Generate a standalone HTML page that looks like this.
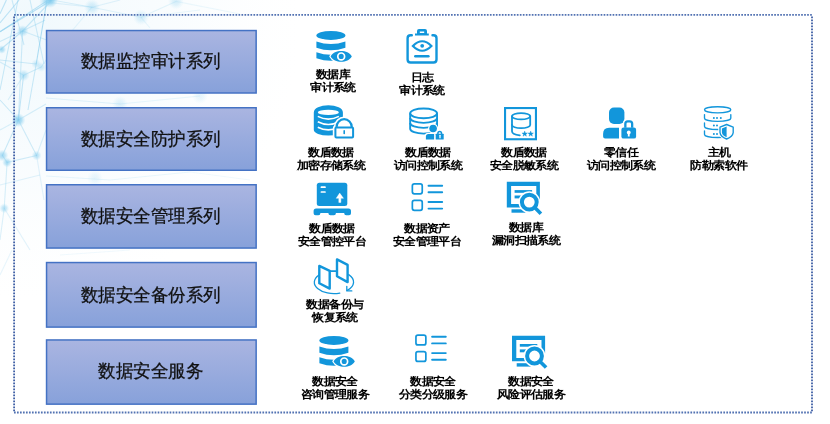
<!DOCTYPE html>
<html><head><meta charset="utf-8">
<style>
html,body{margin:0;padding:0;background:#fff;}
body{width:830px;height:424px;position:relative;overflow:hidden;font-family:"Liberation Sans",sans-serif;}
#bg{position:absolute;left:0;top:0;}
.box{position:absolute;left:44.9px;width:211.1px;color:#111;font-size:18px;-webkit-text-stroke:0.3px #111;text-align:center;transform:scaleX(0.972);}
.lb{position:absolute;width:100px;text-align:center;font-size:11px;line-height:14.2px;transform:scale(1.045,0.96);transform-origin:50% 0;font-weight:bold;color:#000;-webkit-text-stroke:0.3px rgba(0,0,0,0.25);white-space:nowrap;}
#ic{position:absolute;left:0;top:0;}
</style></head><body>
<svg id="bg" width="830" height="424" viewBox="0 0 830 424">
<defs><radialGradient id="nd"><stop offset="0" stop-color="#7cc8ec" stop-opacity="1"/><stop offset="0.45" stop-color="#8fd2f0" stop-opacity="0.8"/><stop offset="1" stop-color="#a8dcf3" stop-opacity="0"/></radialGradient>
<radialGradient id="hz" cx="0.1" cy="0.1" r="0.9"><stop offset="0" stop-color="#cdeaf7" stop-opacity="0.3"/><stop offset="0.55" stop-color="#dff1fa" stop-opacity="0.18"/><stop offset="1" stop-color="#eef8fc" stop-opacity="0"/></radialGradient>
<filter id="bl" x="-5%" y="-5%" width="110%" height="110%"><feGaussianBlur stdDeviation="0.5"/></filter></defs>
<rect x="0" y="0" width="300" height="300" fill="url(#hz)"/>
<g stroke="#8fd0ee" stroke-width="1.1" fill="none" filter="url(#bl)">
<line x1="47" y1="0" x2="36.2" y2="64" stroke-opacity="0.7"/>
<line x1="36.2" y1="64" x2="28" y2="110" stroke-opacity="0.45"/>
<line x1="52" y1="0" x2="0" y2="31.7" stroke-opacity="0.6"/>
<line x1="0" y1="31.8" x2="45" y2="2.1" stroke-opacity="0.6"/>
<line x1="45" y1="2.1" x2="70" y2="-10" stroke-opacity="0.45"/>
<line x1="0" y1="22.8" x2="19.1" y2="0" stroke-opacity="0.55"/>
<line x1="6.4" y1="0" x2="0" y2="13.8" stroke-opacity="0.55"/>
<line x1="22.6" y1="31" x2="0" y2="50" stroke-opacity="0.5"/>
<line x1="22.6" y1="31" x2="52" y2="0" stroke-opacity="0.45"/>
<line x1="22.6" y1="31" x2="18.4" y2="120" stroke-opacity="0.4"/>
<line x1="22.6" y1="31" x2="60" y2="45" stroke-opacity="0.35"/>
<line x1="0" y1="41.4" x2="45" y2="20.2" stroke-opacity="0.4"/>
<line x1="0" y1="60" x2="36.2" y2="64" stroke-opacity="0.4"/>
<line x1="18" y1="0" x2="0" y2="90" stroke-opacity="0.45"/>
<line x1="12" y1="0" x2="24" y2="45" stroke-opacity="0.4"/>
<line x1="30" y1="0" x2="44" y2="64" stroke-opacity="0.4"/>
<line x1="18.4" y1="120" x2="23.6" y2="75.3" stroke-opacity="0.5"/>
<line x1="18.4" y1="120" x2="2.4" y2="155.5" stroke-opacity="0.45"/>
<line x1="18.4" y1="120" x2="36.6" y2="155.5" stroke-opacity="0.4"/>
<line x1="18.4" y1="120" x2="0" y2="100" stroke-opacity="0.45"/>
<line x1="18.4" y1="120" x2="46" y2="104" stroke-opacity="0.35"/>
<line x1="23.6" y1="75.3" x2="41.3" y2="67" stroke-opacity="0.4"/>
<line x1="23.6" y1="75.3" x2="0" y2="62" stroke-opacity="0.35"/>
<line x1="41.3" y1="67" x2="60" y2="40" stroke-opacity="0.3"/>
<line x1="23.6" y1="75.3" x2="8" y2="100" stroke-opacity="0.3"/>
<line x1="2.4" y1="155.5" x2="7.1" y2="162.4" stroke-opacity="0.45"/>
<line x1="7.1" y1="162.4" x2="36.6" y2="155.5" stroke-opacity="0.4"/>
<line x1="7.1" y1="162.4" x2="4.2" y2="208.3" stroke-opacity="0.35"/>
<line x1="36.6" y1="155.5" x2="46" y2="130" stroke-opacity="0.3"/>
<line x1="4.2" y1="208.3" x2="0" y2="240" stroke-opacity="0.3"/>
<line x1="4.2" y1="208.3" x2="30" y2="250" stroke-opacity="0.25"/>
<line x1="36.6" y1="155.5" x2="44" y2="200" stroke-opacity="0.25"/>
<line x1="0" y1="185" x2="40" y2="175" stroke-opacity="0.25"/>
<line x1="52" y1="0" x2="92" y2="7.2" stroke-opacity="0.3"/>
<line x1="92" y1="7.2" x2="141" y2="17.3" stroke-opacity="0.25"/>
<line x1="141" y1="17.3" x2="176" y2="1.4" stroke-opacity="0.22"/>
<line x1="92" y1="7.2" x2="120" y2="0" stroke-opacity="0.25"/>
<line x1="141" y1="17.3" x2="200" y2="10" stroke-opacity="0.18"/>
<line x1="176" y1="1.4" x2="240" y2="14" stroke-opacity="0.15"/>
<line x1="45" y1="2.1" x2="92" y2="7.2" stroke-opacity="0.25"/>
<line x1="60" y1="45" x2="92" y2="7.2" stroke-opacity="0.2"/>
<line x1="141" y1="17.3" x2="150" y2="28" stroke-opacity="0.18"/>
<line x1="0" y1="130" x2="18.4" y2="120" stroke-opacity="0.3"/>
<line x1="0" y1="275" x2="12" y2="250" stroke-opacity="0.2"/>
<line x1="46" y1="98" x2="120" y2="104" stroke-opacity="0.25"/>
<line x1="120" y1="104" x2="200" y2="96" stroke-opacity="0.2"/>
<line x1="46" y1="176" x2="110" y2="180" stroke-opacity="0.2"/>
<line x1="110" y1="180" x2="190" y2="172" stroke-opacity="0.18"/>
<line x1="190" y1="172" x2="250" y2="180" stroke-opacity="0.12"/>
<line x1="60" y1="255" x2="130" y2="250" stroke-opacity="0.12"/>
</g>
<g fill="url(#nd)">
<circle cx="50" cy="0" r="8.00" opacity="0.96"/>
<circle cx="22.6" cy="31" r="6.00" opacity="0.66"/>
<circle cx="1.8" cy="49.5" r="4.40" opacity="0.66"/>
<circle cx="23.6" cy="75.3" r="6.00" opacity="0.54"/>
<circle cx="18.4" cy="120.1" r="7.00" opacity="0.84"/>
<circle cx="2.4" cy="155.5" r="6.00" opacity="0.66"/>
<circle cx="36.6" cy="155.5" r="5.00" opacity="0.54"/>
<circle cx="41.3" cy="67" r="5.00" opacity="0.36"/>
<circle cx="7.1" cy="162.4" r="5.00" opacity="0.66"/>
<circle cx="4.2" cy="208.3" r="5.00" opacity="0.54"/>
<circle cx="92" cy="7.2" r="8.00" opacity="0.36"/>
<circle cx="141" cy="17.3" r="8.00" opacity="0.30"/>
<circle cx="176" cy="1.4" r="8.00" opacity="0.30"/>
<circle cx="45" cy="2.1" r="6.00" opacity="0.36"/>
<circle cx="36.2" cy="64" r="5.00" opacity="0.36"/>
<circle cx="120" cy="104" r="8.00" opacity="0.24"/>
<circle cx="95" cy="178" r="8.00" opacity="0.18"/>
<circle cx="200" cy="96" r="8.00" opacity="0.18"/>
</g>
</svg>
<svg id="fr" width="830" height="424" viewBox="0 0 830 424" style="position:absolute;left:0;top:0">
<g stroke="#5272b2" stroke-width="1.8" stroke-dasharray="1.7 1.293" fill="none">
<path d="M14 14.95H813"/>
<path d="M14 412.5H813"/>
</g>
<g stroke="#3f5fa5" stroke-width="1.8" stroke-dasharray="1.7 1.3" fill="none">
<path d="M14.1 16.5V412"/>
<path d="M812 16.5V412"/>
</g>
</svg>






<svg id="bx" width="830" height="424" viewBox="0 0 830 424" style="position:absolute;left:0;top:0">
<defs><linearGradient id="bg1" x1="0" y1="0" x2="0" y2="1"><stop offset="0" stop-color="#aab5e1"/><stop offset="1" stop-color="#87a1da"/></linearGradient></defs>
<rect x="46.55" y="30.55" width="209.6" height="62.45" fill="url(#bg1)" stroke="#4472c4" stroke-width="1.5"/>
<rect x="46.55" y="107.75" width="209.6" height="62.50" fill="url(#bg1)" stroke="#4472c4" stroke-width="1.5"/>
<rect x="46.55" y="184.75" width="209.6" height="63.30" fill="url(#bg1)" stroke="#4472c4" stroke-width="1.5"/>
<rect x="46.55" y="262.55" width="209.6" height="64.55" fill="url(#bg1)" stroke="#4472c4" stroke-width="1.5"/>
<rect x="46.55" y="339.95" width="209.6" height="64.20" fill="url(#bg1)" stroke="#4472c4" stroke-width="1.5"/>
</svg>
<div class="box" style="top:29.80px;height:63.95px;line-height:63.95px">数据监控审计系列</div>
<div class="box" style="top:107.00px;height:64.00px;line-height:64.00px">数据安全防护系列</div>
<div class="box" style="top:184.00px;height:64.80px;line-height:64.80px">数据安全管理系列</div>
<div class="box" style="top:261.80px;height:66.05px;line-height:66.05px">数据安全备份系列</div>
<div class="box" style="top:339.20px;height:65.70px;line-height:65.70px">数据安全服务</div>
<div class="lb" style="left:283.15px;top:67.30px">数据库<br>审计系统</div>
<div class="lb" style="left:371.50px;top:70.00px">日志<br>审计系统</div>
<div class="lb" style="left:280.70px;top:145.20px">数盾数据<br>加密存储系统</div>
<div class="lb" style="left:377.50px;top:145.20px">数盾数据<br>访问控制系统</div>
<div class="lb" style="left:474.00px;top:145.20px">数盾数据<br>安全脱敏系统</div>
<div class="lb" style="left:571.10px;top:145.20px">零信任<br>访问控制系统</div>
<div class="lb" style="left:668.70px;top:144.70px">主机<br>防勒索软件</div>
<div class="lb" style="left:282.40px;top:221.20px">数盾数据<br>安全管控平台</div>
<div class="lb" style="left:376.50px;top:220.70px">数据资产<br>安全管理平台</div>
<div class="lb" style="left:476.00px;top:220.10px">数据库<br>漏洞扫描系统</div>
<div class="lb" style="left:285.05px;top:297.40px">数据备份与<br>恢复系统</div>
<div class="lb" style="left:284.70px;top:373.70px">数据安全<br>咨询管理服务</div>
<div class="lb" style="left:383.25px;top:373.70px">数据安全<br>分类分级服务</div>
<div class="lb" style="left:481.25px;top:373.70px">数据安全<br>风险评估服务</div>
<svg id="ic" width="830" height="424" viewBox="0 0 830 424">
<defs>
 <g id="dbeye">
  <ellipse cx="330.9" cy="35.45" rx="14.5" ry="4.45"/>
  <path d="M316.4 41.6 Q330.9 46.6 345.4 41.6 V47.8 Q330.9 52.8 316.4 47.8Z"/>
  <path d="M316.4 52.2 Q330.9 57.2 345.4 52.2 V58.2 Q330.9 63.2 316.4 58.2Z"/>
  <path d="M330.6 56.4 C334.5 49.3 347.9 49.3 351.8 56.4 C347.9 63.5 334.5 63.5 330.6 56.4Z" stroke="#fff" stroke-width="2.4" paint-order="stroke"/>
  <circle cx="341.2" cy="56.4" r="3.4" fill="none" stroke="#fff" stroke-width="1.7"/>
 </g>
 <g id="list" fill="none" stroke-linecap="round">
  <rect x="412.35" y="183.95" width="9.9" height="9.9" rx="2" stroke-width="1.7"/>
  <rect x="412.35" y="200.45" width="9.9" height="9.9" rx="2" stroke-width="1.7"/>
  <path d="M428.5 185.7H442.2M428.5 192.3H442.2M428.5 202H442.2M428.5 208.6H442.2" stroke-width="1.9"/>
 </g>
 <g id="monsearch">
  <path fill-rule="evenodd" d="M506.8 181.8H539.9V207.4H506.8Z M511.1 186.1V204H536.3V186.1Z"/>
  <rect x="511.5" y="209.3" width="13.9" height="3.4"/>
  <rect x="514.6" y="190.1" width="17.5" height="2.7"/>
  <rect x="514.6" y="195.5" width="6.3" height="2.9"/>
  <rect x="534" y="199.5" width="7" height="9" fill="#fff"/>
  <circle cx="529.3" cy="202.1" r="7.4" fill="#fff" stroke="#fff" stroke-width="7"/>
  <path d="M534.8 207.6L540.9 213.7" stroke="#fff" stroke-width="6.6"/>
  <circle cx="529.3" cy="202.1" r="7.4" fill="#fff" stroke-width="4"/>
  <path d="M534.8 207.6L540.9 213.7" stroke-width="3.6"/>
 </g>
</defs>
<g fill="#1296db" stroke="#1296db" stroke-width="0">
 <use href="#dbeye"/>
 <use href="#dbeye" transform="translate(3,305)"/>
 <use href="#list"/>
 <use href="#list" transform="translate(3.6,151.1)"/>
 <use href="#monsearch"/>
 <use href="#monsearch" transform="translate(5.2,153.9)"/>
</g>
<!-- clipboard -->
<g fill="none" stroke="#1296db" stroke-width="2.4" stroke-linecap="round">
 <path d="M411.8 35.2H410.6Q407.6 35.2 407.6 38.2V59.5Q407.6 62.5 410.6 62.5H433.5Q436.5 62.5 436.5 59.5V38.2Q436.5 35.2 433.5 35.2H432.5"/>
 <path d="M412.9 46Q422.2 36.5 431.4 46Q422.2 55.5 412.9 46Z" stroke-width="2.2"/>
 <path d="M415.3 56.25H428.4" stroke-width="2.5"/>
</g>
<g fill="#1296db">
 <circle cx="422.2" cy="45.8" r="1.9"/>
 <path fill-rule="evenodd" d="M419 29H425Q427 29 427 31V33.5H428.8V35.4H415V33.5H417V31Q417 29 419 29Z M419.8 31.5V33H424.2V31.5Z"/>
</g>
<!-- db lock -->
<g fill="#1296db">
 <path d="M313.8 112.4 A14.55 7.2 0 0 1 342.9 112.4 V130 A14.55 5.5 0 0 1 313.8 130 Z"/>
 <ellipse cx="328.35" cy="112.4" rx="10.55" ry="2.7" fill="#fff"/>
 <path d="M317.8 116.4 Q328.35 121.8 338.9 116.4 M317.8 121.8 Q328.35 127.2 338.9 121.8 M317.8 127.2 Q328.35 132.6 338.9 127.2" stroke="#fff" stroke-width="1.6" fill="none"/>
 <g stroke="#fff" stroke-width="5.2" fill="#fff" stroke-linejoin="round">
  <path d="M336.6 127.5 V126.75 A7.55 7.55 0 0 1 351.7 126.75 V127.5Z"/>
  <rect x="335.4" y="127.5" width="17.7" height="9.9" rx="1"/>
 </g>
 <path d="M336.6 127.5 V126.75 A7.55 7.55 0 0 1 351.7 126.75 V127.5" stroke="#1296db" stroke-width="2.2" fill="none"/>
 <rect x="335.4" y="127.5" width="17.7" height="9.9" rx="1" stroke="#1296db" stroke-width="2" fill="#fff"/>
 <path d="M344.2 130.8V133.4" stroke="#1296db" stroke-width="1.6" stroke-linecap="round"/>
</g>
<!-- db user lock -->
<g fill="none" stroke="#1296db" stroke-width="1.9">
 <ellipse cx="423.6" cy="113.35" rx="13.45" ry="4.85"/>
 <path d="M410.15 113.35V128.8A13.45 4.85 0 0 0 437.05 128.8V113.35"/>
 <path d="M410.15 118A13.45 4.85 0 0 0 437.05 118M410.15 123A13.45 4.85 0 0 0 437.05 123"/>
</g>
<g fill="#1296db">
 <g fill="#fff" stroke="#fff" stroke-width="2.6">
  <circle cx="433.1" cy="128.55" r="3.8"/>
  <path d="M425.9 139.6V136.6Q425.9 134.1 428.4 134.1H434.1V139.6Z"/>
  <path d="M435.7 133.7H443.7V139.6H435.7Z M437.3 133.7V132.6A2.4 2.4 0 0 1 442.1 132.6V133.7"/>
 </g>
 <circle cx="433.1" cy="128.55" r="3.8"/>
 <path d="M425.9 139.6V136.6Q425.9 134.1 428.4 134.1H434.1V139.6Z"/>
 <path d="M437.9 133.9V133.2A1.8 1.8 0 0 1 441.5 133.2V133.9" stroke="#1296db" stroke-width="1.5" fill="none"/>
 <rect x="435.7" y="133.7" width="8" height="5.9" rx="0.6"/>
 <path d="M440 135.3V137.8" stroke="#fff" stroke-width="1.3" stroke-linecap="round"/>
</g>
<!-- mask db -->
<g fill="none" stroke="#1296db" stroke-width="2.1">
 <rect x="505.05" y="108.05" width="30.9" height="31.2"/>
</g>
<g fill="none" stroke="#1296db" stroke-width="1.8" stroke-linecap="round">
 <ellipse cx="521.1" cy="116.25" rx="9.1" ry="3.15"/>
 <path d="M512 116.25V131.3Q512 134.6 519.8 135.4"/>
 <path d="M530.2 116.25V125A9.1 3.15 0 0 1 512 125"/>
</g>
<g fill="#1296db">
 <path id="star" transform="translate(524.7 133.6) scale(1.2) translate(-524.7 -133.6)" d="M524.7 131.4L525.3 133.0L527.0 133.1L525.7 134.1L526.1 135.8L524.7 134.8L523.3 135.8L523.7 134.1L522.4 133.1L524.1 133.0Z" stroke="#1296db" stroke-width="0.3" stroke-linejoin="round"/>
 <use href="#star" transform="translate(6,0)"/>
</g>
<!-- person lock -->
<g fill="#1296db">
 <rect x="609" y="107.6" width="15.4" height="16.3" rx="5"/>
 <path d="M603.1 138.5V133.7Q603.1 127.7 609.1 127.7H619V138.5H605.1Q603.1 138.5 603.1 136.5Z"/>
 <path d="M625.35 127.7V123.85Q625.35 121.35 627.85 121.35H629.65Q632.15 121.35 632.15 123.85V127.7" stroke="#fff" stroke-width="5" fill="none"/>
 <rect x="620.1" y="126.3" width="17.3" height="13.6" rx="3" fill="#fff"/>
 <path d="M625.35 127.7V123.85Q625.35 121.35 627.85 121.35H629.65Q632.15 121.35 632.15 123.85V127.7" stroke="#1296db" stroke-width="2.3" fill="none"/>
 <rect x="621.4" y="127.6" width="14.7" height="11" rx="2.2"/>
 <circle cx="628.75" cy="132.5" r="1.9" fill="#fff"/>
 <path d="M628 133.2H629.5L629.7 136.4H627.8Z" fill="#fff"/>
</g>
<!-- server shield -->
<g fill="none" stroke="#1296db" stroke-width="1.35" stroke-linecap="round">
 <ellipse cx="717.65" cy="109.85" rx="13.15" ry="3.05"/>
 <path d="M704.5 114.6V118.3A13.15 3.1 0 0 0 730.8 118.3V114.6"/>
 <path d="M704.5 122.9V126.4A13.15 3.1 0 0 0 730.8 126.4"/>
 <path d="M704.5 130.8V134.4A13.15 3.1 0 0 0 730.8 134.4"/>
</g>
<g fill="#1296db">
 <circle cx="713.9" cy="118.1" r="1"/><circle cx="717" cy="118.1" r="1"/><circle cx="720.8" cy="118.1" r="1"/>
 <circle cx="713.9" cy="125.4" r="1"/><circle cx="717" cy="125.4" r="1"/>
 <circle cx="713.9" cy="133.9" r="1"/><circle cx="717" cy="133.9" r="1"/>
 <path d="M726.6 124.5L720 127.1V132.6Q720.5 136.6 726.6 139Q732.7 136.6 733.2 132.6V127.1Z" fill="#fff" stroke="#fff" stroke-width="3.5" stroke-linejoin="round"/>
 <path d="M726.6 124.5L720 127.1V132.6Q720.5 136.6 726.6 139Q732.7 136.6 733.2 132.6V127.1Z" fill="#fff" stroke="#1296db" stroke-width="1.35" stroke-linejoin="round"/>
 <path d="M726.6 126.5L721.9 128.4V132.4Q722.3 135.4 726.6 137.2Z"/>
</g>
<!-- pallet box -->
<g fill="#1296db">
 <rect x="316.8" y="182.7" width="30.5" height="23.4" rx="2.5"/>
 <path d="M321.4 187.2H325M321.4 192H325" stroke="#fff" stroke-width="1.7" stroke-linecap="round"/>
 <path d="M339.7 193.1L343.5 198.3H340.9V202.5H338.8V198.3H336.2Z" fill="#fff" stroke="#fff" stroke-width="0.4" stroke-linejoin="round"/>
 <path d="M316.1 208.4H348.5Q351 208.4 351 210.9V213.3Q351 215.3 349 215.3H346.2Q344.2 215.3 344.2 213.3V212.9H335.9V213.3Q335.9 215.3 333.9 215.3H330.4Q328.4 215.3 328.4 213.3V212.9H320.4V213.3Q320.4 215.3 318.4 215.3H315.6Q313.6 215.3 313.6 213.3V210.9Q313.6 208.4 316.1 208.4Z"/>
</g>
<!-- backup -->
<g fill="none" stroke="#1296db" stroke-linecap="round" stroke-linejoin="round">
 <path d="M319 275A19.6 11.3 0 0 0 339.8 293.1" stroke-width="1.3"/>
 <path d="M348.7 274.6A19.6 11.3 0 0 1 347.2 290.4" stroke-width="1.3"/>
 <path d="M346.8 286.3V290.9H351.8" stroke-width="1.3"/>
 <path d="M329.6 271.1H336.7" stroke-width="1.7"/>
 <path d="M319.3 265.9L329.7 270.9V288.6L319.3 283.3Z" stroke-width="2.4" fill="#fff"/>
 <path d="M337 259.4L347.6 264.9V282.1L337 276.3Z" stroke-width="2.4" fill="#fff"/>
</g>
</svg>
</body></html>
